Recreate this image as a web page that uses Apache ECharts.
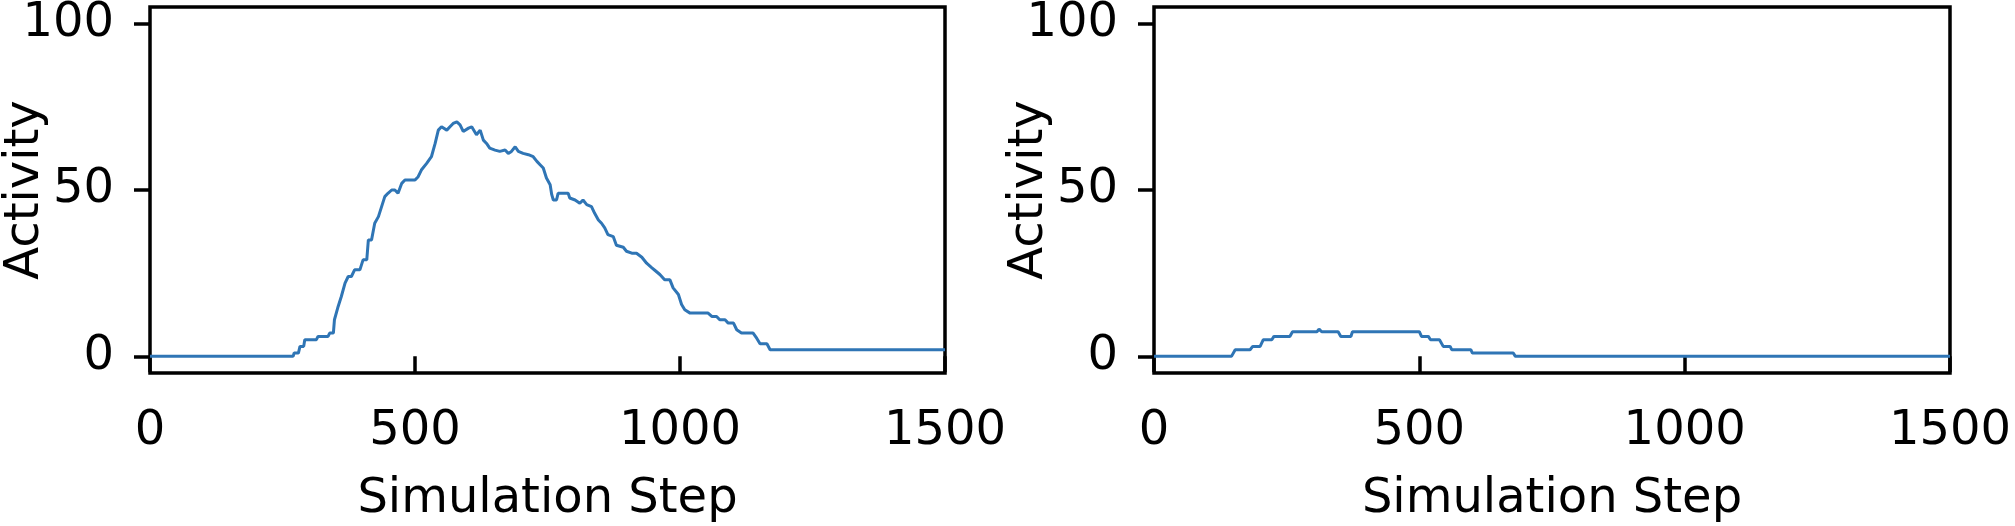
<!DOCTYPE html>
<html>
<head>
<meta charset="utf-8">
<script src="https://cdn.jsdelivr.net/npm/echarts@6/dist/echarts.min.js"></script>
<style>
html,body{margin:0;padding:0;background:#fff;}
#chart{width:2015px;height:526px;}
</style>
</head>
<body>
<div id="chart"></div>
<script>
// Left panel
var steps1 = [0, 270, 272, 280, 283, 290, 292, 314, 317, 336, 339, 346, 348, 355, 361, 368, 374, 380, 386, 396, 402, 409, 412, 418, 424, 431, 437, 443, 449, 456, 462, 468, 475, 481, 487, 500, 506, 512, 522, 531, 538, 544, 550, 560, 566, 572, 579, 585, 591, 601, 607, 616, 623, 629, 635, 641, 651, 660, 670, 676, 682, 689, 695, 704, 714, 723, 730, 736, 742, 745, 748, 755, 758, 761, 767, 770, 789, 792, 802, 811, 817, 824, 833, 839, 846, 852, 858, 864, 874, 880, 893, 899, 909, 918, 928, 937, 947, 953, 962, 971, 981, 987, 997, 1003, 1009, 1019, 1053, 1060, 1069, 1075, 1085, 1091, 1101, 1107, 1116, 1138, 1145, 1151, 1164, 1170, 1500];
var activity1 = [0, 0, 1, 1, 3, 3, 5, 5, 6, 6, 7, 7, 11, 15, 18, 22, 24, 24, 26, 26, 29, 29, 35, 35, 40, 42, 45, 48, 49, 50, 50, 49, 52, 53, 53, 53, 54, 56, 58, 60, 64, 68, 69, 68, 69, 70, 70.5, 69.6, 67.6, 68.6, 69, 66.6, 68, 65, 64, 62.6, 62, 61.6, 62, 61, 61.6, 63, 61.6, 61, 60.6, 60, 58.6, 57.6, 56.6, 57, 53.6, 51.6, 48.6, 47, 47, 49, 49, 47.6, 47, 46, 47, 45.6, 45, 43, 41, 40, 38.6, 36.6, 36, 33.4, 32.8, 31.6, 31, 31, 29.8, 28, 26.6, 25.8, 24.6, 23, 23, 20.6, 18.6, 15.6, 14, 13, 13, 12, 12, 11, 11, 10, 10, 8, 7, 7, 5.4, 3.8, 3.8, 2, 2];
// Right panel
var steps2 = [0, 146, 153, 181, 186, 200, 206, 222, 226, 256, 261, 307, 311, 316, 347, 352, 371, 374, 500, 504, 517, 521, 538, 545, 558, 561, 597, 600, 677, 681, 1500];
var activity2 = [0, 0, 2, 2, 3, 3, 5, 5, 6, 6, 7.4, 7.4, 8.2, 7.4, 7.4, 6, 6, 7.4, 7.4, 6, 6, 5, 5, 3, 3, 2, 2, 1, 1, 0, 0];
var xTicks = [0, 500, 1000, 1500];
var yTicks = [0, 50, 100];
var xName = 'Simulation Step';
var yName = 'Activity';

function zip(a, b) { return a.map(function (v, i) { return [v, b[i]]; }); }

var FONT = 'DejaVu Sans';
var FS = 48;
var LINE_COLOR = '#2f75b5';

function xAxisCfg(idx) {
  return {
    gridIndex: idx, type: 'value', min: 0, max: 1500, interval: 500,
    name: xName, nameLocation: 'middle', nameGap: 103, nameMoveOverlap: false,
    nameTextStyle: { fontFamily: FONT, fontSize: FS, color: '#000' },
    axisLine: { show: false },
    axisTick: { show: true, inside: false, length: 16, customValues: xTicks, lineStyle: { color: '#000', width: 3.5 } },
    axisLabel: { fontFamily: FONT, fontSize: FS, color: '#000', margin: 35, customValues: xTicks,
      formatter: function (v) { return String(v); } },
    splitLine: { show: false }
  };
}
function yAxisCfg(idx) {
  return {
    gridIndex: idx, type: 'value', min: -5, max: 105,
    name: yName, nameLocation: 'middle', nameGap: 100, nameRotate: 90, nameMoveOverlap: false,
    nameTextStyle: { fontFamily: FONT, fontSize: FS, color: '#000' },
    axisLine: { show: false },
    axisTick: { show: true, inside: false, length: 16, customValues: yTicks, lineStyle: { color: '#000', width: 3.5 } },
    axisLabel: { fontFamily: FONT, fontSize: FS, color: '#000', margin: 36, customValues: yTicks,
      formatter: function (v) { return String(v); } },
    splitLine: { show: false }
  };
}

var chart = echarts.init(document.getElementById('chart'), null, { renderer: 'canvas' });
chart.setOption({
  animation: false,
  backgroundColor: '#fff',
  grid: [
    { left: 150, top: 7, width: 795, height: 366, outerBoundsMode: 'none', containLabel: false, show: true, borderColor: '#000', borderWidth: 3.5, backgroundColor: 'transparent' },
    { left: 1154, top: 7, width: 796, height: 366, outerBoundsMode: 'none', containLabel: false, show: true, borderColor: '#000', borderWidth: 3.5, backgroundColor: 'transparent' }
  ],
  xAxis: [xAxisCfg(0), xAxisCfg(1)],
  yAxis: [yAxisCfg(0), yAxisCfg(1)],
  series: [
    { type: 'line', xAxisIndex: 0, yAxisIndex: 0, data: zip(steps1, activity1), showSymbol: false, lineStyle: { color: LINE_COLOR, width: 3 }, itemStyle: { color: LINE_COLOR } },
    { type: 'line', xAxisIndex: 1, yAxisIndex: 1, data: zip(steps2, activity2), showSymbol: false, lineStyle: { color: LINE_COLOR, width: 3 }, itemStyle: { color: LINE_COLOR } }
  ]
});
</script>
</body>
</html>
